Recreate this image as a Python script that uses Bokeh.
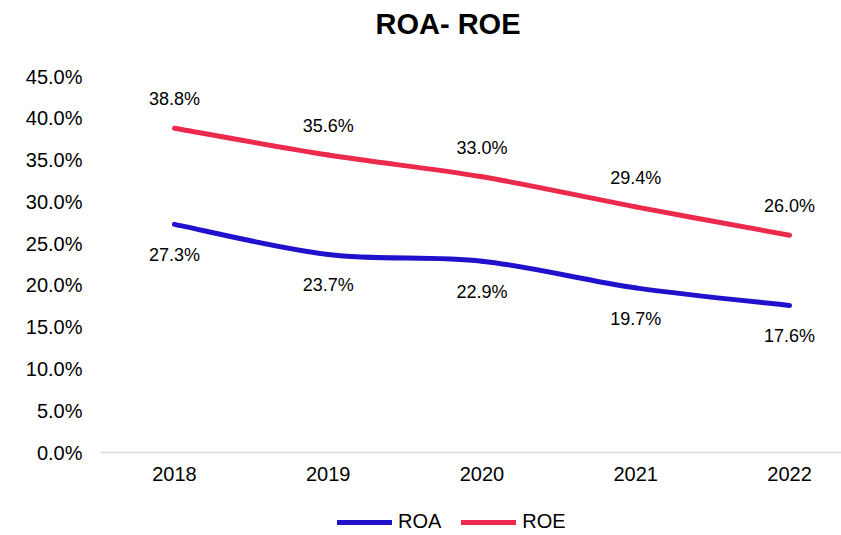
from bokeh.plotting import figure
from bokeh.layouts import column
from bokeh.models import (ColumnDataSource, LabelSet, Legend, LegendItem, Title,
                          FixedTicker, PrintfTickFormatter, Range1d)
from bokeh.core.properties import value
from bokeh.embed import file_html
from bokeh.resources import INLINE

years = ["2018", "2019", "2020", "2021", "2022"]
roa = [27.3, 23.7, 22.9, 19.7, 17.6]
roe = [38.8, 35.6, 33.0, 29.4, 26.0]
y_ticks = [0, 5, 10, 15, 20, 25, 30, 35, 40, 45]
series_names = ["ROA", "ROE"]

FONT = "Liberation Sans"
ROA_COLOR = "#2011CC"
ROE_COLOR = "#EC2A4D"

xs = list(range(len(years)))


def smooth_segments(x, y):
    """Excel-style smoothed line: cubic Bezier segments through the data points."""
    n = len(x)
    seg = dict(x0=[], y0=[], x1=[], y1=[], cx0=[], cy0=[], cx1=[], cy1=[])
    for i in range(n - 1):
        xm, ym = (x[i - 1], y[i - 1]) if i > 0 else (x[i], y[i])
        xp, yp = (x[i + 2], y[i + 2]) if i + 2 < n else (x[i + 1], y[i + 1])
        seg["x0"].append(x[i]); seg["y0"].append(y[i])
        seg["x1"].append(x[i + 1]); seg["y1"].append(y[i + 1])
        seg["cx0"].append(x[i] + (x[i + 1] - xm) / 6)
        seg["cy0"].append(y[i] + (y[i + 1] - ym) / 6)
        seg["cx1"].append(x[i + 1] - (xp - x[i]) / 6)
        seg["cy1"].append(y[i + 1] - (yp - y[i]) / 6)
    return ColumnDataSource(seg)


p = figure(width=841, height=500, output_backend="svg", toolbar_location=None,
           x_range=Range1d(-0.481, 4.338), y_range=Range1d(0, 45),
           min_border_left=100, min_border_right=0, min_border_top=0,
           min_border_bottom=48)
p.outline_line_color = None
p.xgrid.visible = False
p.ygrid.visible = False

# title (outermost) + blank spacer title between it and the plot area
p.title.text = "ROA- ROE"
p.title.align = "left"
p.title.offset = 275
p.title.text_font = FONT
p.title.text_font_size = "29px"
p.title.text_font_style = "bold"
p.title.text_color = "#000000"
p.add_layout(Title(text=" ", text_font_size="18px"), "above")

p.bezier(x0="x0", y0="y0", x1="x1", y1="y1", cx0="cx0", cy0="cy0",
         cx1="cx1", cy1="cy1", source=smooth_segments(xs, roa),
         line_color=ROA_COLOR, line_width=5, line_cap="round")
p.bezier(x0="x0", y0="y0", x1="x1", y1="y1", cx0="cx0", cy0="cy0",
         cx1="cx1", cy1="cy1", source=smooth_segments(xs, roe),
         line_color=ROE_COLOR, line_width=5, line_cap="round")

# data labels
lab_roa = ColumnDataSource(dict(x=xs, y=roa, t=[f"{v:.1f}%" for v in roa]))
lab_roe = ColumnDataSource(dict(x=xs, y=roe, t=[f"{v:.1f}%" for v in roe]))
p.add_layout(LabelSet(x="x", y="y", text="t", source=lab_roa, y_offset=-31,
                      text_align="center", text_baseline="middle",
                      text_font=value(FONT), text_font_size="18px",
                      text_color="#000000"))
p.add_layout(LabelSet(x="x", y="y", text="t", source=lab_roe, y_offset=29,
                      text_align="center", text_baseline="middle",
                      text_font=value(FONT), text_font_size="18px",
                      text_color="#000000"))

# axes
p.xaxis.ticker = FixedTicker(ticks=xs)
p.xaxis.major_label_overrides = {i: y for i, y in enumerate(years)}
p.xaxis.major_tick_line_color = None
p.xaxis.minor_tick_line_color = None
p.xaxis.major_tick_out = 0
p.xaxis.axis_line_color = "#D9D9D9"
p.xaxis.axis_line_width = 1.5
p.xaxis.major_label_standoff = 14
p.xaxis.major_label_text_font = FONT
p.xaxis.major_label_text_font_size = "20px"
p.xaxis.major_label_text_color = "#000000"

p.yaxis.ticker = FixedTicker(ticks=y_ticks)
p.yaxis.formatter = PrintfTickFormatter(format="%.1f%%")
p.yaxis.major_tick_line_color = None
p.yaxis.minor_tick_line_color = None
p.yaxis.major_tick_out = 0
p.yaxis.axis_line_color = None
p.yaxis.major_label_standoff = 18
p.yaxis.major_label_text_font = FONT
p.yaxis.major_label_text_font_size = "20px"
p.yaxis.major_label_text_color = "#000000"

# legend strip below the chart (its series lie outside its visible range)
lg = figure(width=841, height=35, output_backend="svg", toolbar_location=None,
            x_axis_type=None, y_axis_type=None, min_border=0,
            x_range=Range1d(-0.481, 4.338), y_range=Range1d(100, 101))
lg.outline_line_color = None
lr_roa = lg.line(x=xs, y=roa, line_color=ROA_COLOR, line_width=5, line_cap="round")
lr_roe = lg.line(x=xs, y=roe, line_color=ROE_COLOR, line_width=5, line_cap="round")
legend = Legend(items=[LegendItem(label=series_names[0], renderers=[lr_roa]),
                       LegendItem(label=series_names[1], renderers=[lr_roe])],
                orientation="horizontal", location=(237, 2),
                glyph_width=55, glyph_height=14, label_height=14,
                label_standoff=6, spacing=20, padding=0, margin=0,
                border_line_color=None, background_fill_alpha=0,
                label_text_font=FONT, label_text_font_size="20px",
                label_text_color="#000000")
lg.add_layout(legend, "center")

layout = column(p, lg, spacing=0)
open("out.html", "w").write(file_html(layout, INLINE))
